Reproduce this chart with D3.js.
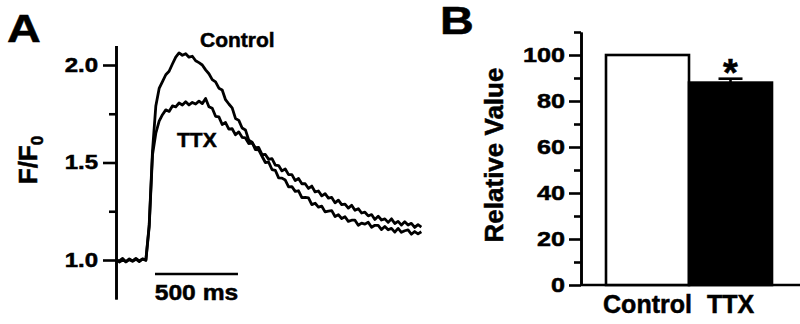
<!DOCTYPE html>
<html>
<head>
<meta charset="utf-8">
<script src="https://cdn.jsdelivr.net/npm/d3@7"></script>
<style>
body { margin: 0; background: #fff; }
svg text { font-family: "Liberation Sans", Arial, sans-serif; font-weight: bold; fill: #000; stroke: #000; stroke-width: 0.5px; }
</style>
</head>
<body>
<svg id="fig" width="800" height="324"></svg>
<script>
// ---- panel A: F/F0 traces (sampled every 20 ms) ----
var timeMs = [0, 20, 40, 60, 80, 100, 120, 140, 160, 180, 200, 220, 240, 260, 280, 300, 320, 340, 360, 380,
    400, 420, 440, 460, 480, 500, 520, 540, 560, 580, 600, 620, 640, 660, 680, 700, 720, 740, 760, 780,
    800, 820, 840, 860, 880, 900, 920, 940, 960, 980, 1000, 1020, 1040, 1060, 1080, 1100, 1120, 1140, 1160, 1180,
    1200, 1220, 1240, 1260, 1280, 1300, 1320, 1340, 1360, 1380, 1400, 1420, 1440, 1460, 1480, 1500, 1520, 1540, 1560, 1580,
    1600, 1620, 1640, 1660, 1680, 1700, 1720, 1740, 1760, 1780, 1800, 1820, 1840];
var controlTrace = [1.005, 0.990, 1.000, 0.992, 1.006, 0.995, 1.008, 0.996, 1.004, 1.000, 1.180, 1.560, 1.790, 1.880, 1.915, 1.950, 1.968, 2.005, 2.040, 2.062,
    2.050, 2.058, 2.040, 2.045, 2.022, 2.012, 2.000, 1.975, 1.955, 1.925, 1.913, 1.881, 1.872, 1.822, 1.800, 1.780, 1.726, 1.716, 1.677, 1.667,
    1.615, 1.604, 1.566, 1.565, 1.532, 1.500, 1.502, 1.464, 1.460, 1.421, 1.420, 1.410, 1.375, 1.376, 1.352, 1.355, 1.320, 1.321, 1.318, 1.284,
    1.291, 1.271, 1.276, 1.247, 1.251, 1.253, 1.223, 1.232, 1.213, 1.222, 1.198, 1.204, 1.204, 1.178, 1.189, 1.184, 1.194, 1.168, 1.178, 1.178,
    1.156, 1.172, 1.155, 1.162, 1.143, 1.162, 1.142, 1.150, 1.154, 1.132, 1.146, 1.134, 1.145];
var ttxTrace = [1.000, 0.995, 1.008, 0.990, 1.002, 0.994, 1.004, 0.992, 1.006, 0.998, 1.170, 1.540, 1.650, 1.712, 1.745, 1.770, 1.762, 1.790, 1.785, 1.805,
    1.795, 1.812, 1.795, 1.808, 1.800, 1.815, 1.802, 1.828, 1.786, 1.778, 1.737, 1.734, 1.695, 1.705, 1.671, 1.673, 1.642, 1.657, 1.629, 1.626,
    1.597, 1.602, 1.576, 1.577, 1.540, 1.541, 1.516, 1.520, 1.486, 1.484, 1.457, 1.467, 1.438, 1.438, 1.407, 1.418, 1.391, 1.391, 1.367, 1.379,
    1.349, 1.354, 1.329, 1.340, 1.317, 1.321, 1.293, 1.307, 1.284, 1.287, 1.266, 1.281, 1.255, 1.263, 1.241, 1.245, 1.226, 1.233, 1.208, 1.225,
    1.205, 1.211, 1.193, 1.211, 1.187, 1.198, 1.179, 1.196, 1.179, 1.188, 1.167, 1.181, 1.169];
var traceTicks = [1.0, 1.5, 2.0];
var traceMinorTicks = [1.25, 1.75];
var scaleBarMs = [235, 735];

// ---- panel B: relative value ----
var groups = ["Control", "TTX"];
var groupMeans = [100, 88];
var groupErrors = [0, 1.7];
var barTicks = [0, 20, 40, 60, 80, 100];
var barMinorTicks = [10, 30, 50, 70, 90, 110];

var svg = d3.select("#fig");
var lw = 2.6;

function styleAxis(g) {
    g.select(".domain").attr("stroke", "#000").attr("stroke-width", lw);
    g.selectAll(".tick line").attr("stroke", "#000").attr("stroke-width", lw);
}

function drawPanelA() {
    var x = d3.scaleLinear().domain([0, 1850]).range([116, 423]);
    var y = d3.scaleLinear().domain([0.8, 2.1]).range([299, 45.5]);

    // minor ticks first, then major with labels
    svg.append("g")
        .attr("transform", "translate(116,0)")
        .call(d3.axisLeft(y).tickValues(traceMinorTicks).tickSize(7).tickSizeOuter(0).tickFormat(""))
        .call(styleAxis);
    var ax = svg.append("g")
        .attr("transform", "translate(116,0)")
        .call(d3.axisLeft(y).tickValues(traceTicks).tickSize(13).tickSizeOuter(0).tickFormat(d3.format(".1f")))
        .call(styleAxis)
        .attr("font-size", 20)
        .attr("font-family", null);
    ax.selectAll(".tick text")
        .attr("transform", "scale(1.2,1)")
        .attr("x", -18 / 1.2);

    var line = d3.line()
        .x((d, i) => x(timeMs[i]))
        .y(d => y(d));
    [controlTrace, ttxTrace].forEach(series => {
        svg.append("path")
            .datum(series)
            .attr("fill", "none")
            .attr("stroke", "#000")
            .attr("stroke-width", 2.8)
            .attr("stroke-linejoin", "round")
            .attr("d", line);
    });

    // scale bar
    svg.append("line")
        .attr("x1", x(scaleBarMs[0])).attr("x2", x(scaleBarMs[1]))
        .attr("y1", 274).attr("y2", 274)
        .attr("stroke", "#000").attr("stroke-width", 2.4);
    svg.append("text")
        .attr("transform", "translate(" + (x(scaleBarMs[0]) + x(scaleBarMs[1])) / 2 + ",300) scale(1.12,1)")
        .attr("text-anchor", "middle")
        .style("font-size", "22px")
        .text("500 ms");

    svg.append("text").attr("x", 200).attr("y", 47).style("font-size", "21px").text("Control");
    svg.append("text").attr("x", 177).attr("y", 147).style("font-size", "21px").text("TTX");

    var ylab = svg.append("text")
        .attr("transform", "translate(37,160) rotate(-90)")
        .attr("text-anchor", "middle")
        .style("font-size", "26px");
    ylab.append("tspan").text("F/F");
    ylab.append("tspan").attr("dy", 6).style("font-size", "17px").text("0");

    svg.append("text")
        .attr("transform", "translate(7,42) scale(1.2,1)")
        .style("font-size", "39px")
        .text("A");
}

function drawPanelB() {
    var y = d3.scaleLinear().domain([0, 110]).range([285, 32]);
    var x = d3.scaleBand().domain(groups).range([606, 772]).padding(0);

    svg.append("g")
        .attr("transform", "translate(581,0)")
        .call(d3.axisLeft(y).tickValues(barMinorTicks).tickSize(7).tickSizeOuter(0).tickFormat(""))
        .call(styleAxis);
    var ax = svg.append("g")
        .attr("transform", "translate(581,0)")
        .call(d3.axisLeft(y).tickValues(barTicks).tickSize(12).tickSizeOuter(0))
        .call(styleAxis)
        .attr("font-size", 21)
        .attr("font-family", null);
    ax.selectAll(".tick text")
        .attr("transform", "scale(1.2,1)")
        .attr("x", -16 / 1.2);

    // baseline runs to the right edge
    svg.append("line")
        .attr("x1", 581).attr("x2", 800)
        .attr("y1", y(0)).attr("y2", y(0))
        .attr("stroke", "#000").attr("stroke-width", lw);

    svg.selectAll(".bar")
        .data(groups)
        .enter()
        .append("rect")
        .attr("class", "bar")
        .attr("x", d => x(d))
        .attr("width", x.bandwidth())
        .attr("y", (d, i) => y(groupMeans[i]))
        .attr("height", (d, i) => y(0) - y(groupMeans[i]))
        .attr("fill", (d, i) => i === 0 ? "#fff" : "#000")
        .attr("stroke", "#000")
        .attr("stroke-width", lw);

    // error bar on TTX
    var cx = x("TTX") + x.bandwidth() / 2;
    var top = y(groupMeans[1] + groupErrors[1]);
    svg.append("line")
        .attr("x1", cx).attr("x2", cx)
        .attr("y1", y(groupMeans[1])).attr("y2", top)
        .attr("stroke", "#000").attr("stroke-width", lw);
    svg.append("line")
        .attr("x1", cx - 12).attr("x2", cx + 12)
        .attr("y1", top).attr("y2", top)
        .attr("stroke", "#000").attr("stroke-width", lw);
    svg.append("text")
        .attr("x", cx)
        .attr("y", 86)
        .attr("text-anchor", "middle")
        .style("font-size", "38px")
        .text("*");

    var xa = svg.append("g")
        .attr("transform", "translate(0," + y(0) + ")")
        .call(d3.axisBottom(x).tickSize(0).tickPadding(10))
        .attr("font-size", 25)
        .attr("font-family", null);
    xa.select(".domain").remove();
    xa.selectAll(".tick text").attr("dy", "0.71em");

    svg.append("text")
        .attr("transform", "translate(503,155) rotate(-90)")
        .attr("text-anchor", "middle")
        .style("font-size", "26px")
        .text("Relative Value");

    svg.append("text")
        .attr("transform", "translate(440,34) scale(1.2,1)")
        .style("font-size", "39px")
        .text("B");
}

drawPanelA();
drawPanelB();
</script>
</body>
</html>
